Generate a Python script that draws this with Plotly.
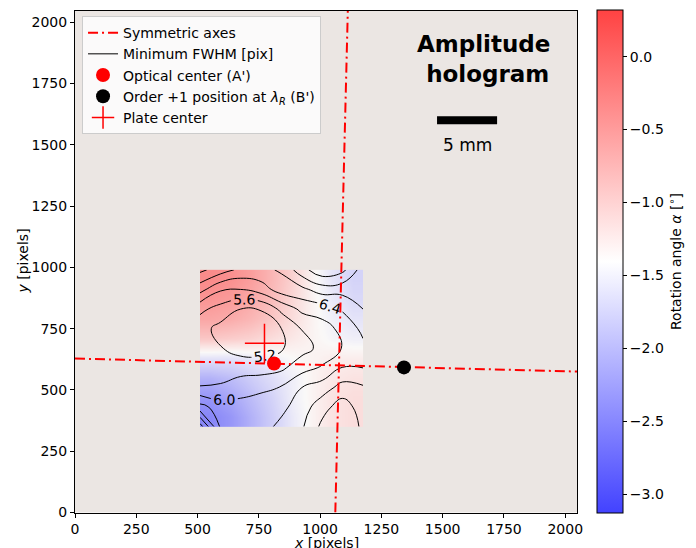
import plotly.graph_objects as go

# ---------------- data ----------------
# Minimum FWHM [pix] grid (rows: bottom -> top)
fwhm_x = [510, 593, 676, 759, 842, 926, 1009, 1092, 1175]
fwhm_y = [350, 430, 510, 590, 670, 750, 830, 910, 990]
fwhm_z = [
    [7.80, 6.35, 6.20, 6.25, 6.50, 6.75, 7.30, 7.60, 7.10],
    [6.55, 6.20, 6.10, 6.20, 6.30, 6.60, 7.05, 7.40, 7.00],
    [5.62, 5.65, 5.88, 5.92, 6.02, 6.40, 6.60, 6.95, 6.85],
    [5.38, 5.40, 5.38, 5.42, 5.52, 5.85, 6.05, 6.42, 6.40],
    [5.30, 5.22, 5.08, 5.05, 5.15, 5.45, 5.72, 6.02, 6.30],
    [5.35, 5.08, 5.02, 5.00, 5.20, 5.62, 5.82, 6.12, 6.50],
    [5.70, 5.45, 5.20, 5.22, 5.70, 6.10, 6.20, 6.45, 6.80],
    [6.55, 6.05, 6.00, 6.20, 6.60, 6.70, 7.00, 6.95, 7.00],
    [7.30, 7.00, 6.70, 6.70, 6.85, 7.45, 7.90, 7.70, 7.00],
]

# Rotation angle alpha [deg] map (cell edges, rows bottom -> top)
angle_x_edges = [510, 593, 676, 759, 843, 926, 1009, 1092, 1175]
angle_y_edges = [350, 430, 510, 590, 670, 750, 830, 910, 990]
angle_z = [
    [-2.45, -2.30, -2.05, -1.80, -1.55, -1.35, -1.20, -1.15],
    [-2.30, -2.15, -1.95, -1.75, -1.50, -1.35, -1.20, -1.15],
    [-2.05, -1.95, -1.80, -1.65, -1.50, -1.35, -1.25, -1.20],
    [-1.60, -1.60, -1.55, -1.50, -1.40, -1.35, -1.30, -1.30],
    [-0.95, -1.00, -1.05, -1.15, -1.25, -1.35, -1.45, -1.50],
    [-0.65, -0.70, -0.80, -0.95, -1.15, -1.35, -1.50, -1.60],
    [-0.50, -0.55, -0.68, -0.85, -1.10, -1.35, -1.55, -1.70],
    [-0.40, -0.45, -0.58, -0.80, -1.05, -1.35, -1.60, -1.75],
]
angle_min = -3.13
angle_max = 0.32

# Symmetric axes (vertical and horizontal)
sym_vert_x = [1062, 1113]
sym_vert_y = [0, 2048]
sym_horiz_x = [0, 2048]
sym_horiz_y = [628, 575]

# Points
optical_center_x = [812]
optical_center_y = [608]
order1_x = [1342]
order1_y = [592]
plate_center_x = [773]
plate_center_y = [690]

# Scale bar (5 mm)
scalebar_x = [1477, 1722]
scalebar_y = [1600, 1600]
scalebar_label_pos = (1600, 1500)
title_pos = (1665, 1850)

tick_vals = [0, 250, 500, 750, 1000, 1250, 1500, 1750, 2000]

FONT = "DejaVu Sans"
FS = 14

# ---------------- figure ----------------
fig = go.Figure()

fig.add_trace(go.Heatmap(
    x=angle_x_edges, y=angle_y_edges, z=angle_z,
    zmin=angle_min, zmax=angle_max, zsmooth="best",
    colorscale=[[0, "rgba(0,0,255,0.74)"], [0.5, "rgba(255,255,255,0.74)"],
                [1, "rgba(255,0,0,0.74)"]],
    showscale=True,
    colorbar=dict(
        x=1.04, xanchor="left", y=0.5, yanchor="middle", len=1.0,
        lenmode="fraction", thickness=26, xpad=0, ypad=0,
        outlinecolor="black", outlinewidth=1,
        tick0=0, dtick=0.5, tickformat=".1f", ticks="outside", ticklen=4,
        tickcolor="black", tickfont=dict(family=FONT, size=FS, color="black"),
        title=dict(text="Rotation angle <i>α</i> [<sup>∘</sup>]", side="right",
                   font=dict(family=FONT, size=FS, color="black")),
    ),
    hoverinfo="skip", showlegend=False,
))

fig.add_trace(go.Contour(
    x=fwhm_x, y=fwhm_y, z=fwhm_z,
    contours=dict(start=5.2, end=7.6, size=0.4, coloring="lines",
                  showlabels=True, labelformat=".1f",
                  labelfont=dict(family=FONT, size=FS, color="black")),
    line=dict(width=1, smoothing=1.3),
    colorscale=[[0, "black"], [1, "black"]],
    showscale=False, showlegend=False, hoverinfo="skip",
))

fig.add_trace(go.Scatter(
    x=sym_vert_x + [None] + sym_horiz_x,
    y=sym_vert_y + [None] + sym_horiz_y,
    mode="lines", name="Symmetric axes",
    line=dict(color="red", width=2, dash="10px,4px,2px,4px"),
))

fig.add_trace(go.Scatter(
    x=[None], y=[None], mode="lines", name="Minimum FWHM [pix]",
    line=dict(color="black", width=1),
))

fig.add_trace(go.Scatter(
    x=optical_center_x, y=optical_center_y, mode="markers",
    name="Optical center (A')",
    marker=dict(color="red", size=14, symbol="circle"),
))

fig.add_trace(go.Scatter(
    x=order1_x, y=order1_y, mode="markers",
    name="Order +1 position at <i>λ</i><sub><i>R</i></sub> (B')",
    marker=dict(color="black", size=14, symbol="circle"),
))

fig.add_trace(go.Scatter(
    x=plate_center_x, y=plate_center_y, mode="markers",
    name="Plate center",
    marker=dict(color="red", size=28, symbol="cross-thin",
                line=dict(color="red", width=1.5)),
))

fig.add_trace(go.Scatter(
    x=scalebar_x, y=scalebar_y, mode="lines",
    line=dict(color="black", width=8), showlegend=False, hoverinfo="skip",
))

fig.add_annotation(
    x=scalebar_label_pos[0], y=scalebar_label_pos[1], xref="x", yref="y",
    text="5 mm", showarrow=False,
    font=dict(family=FONT, size=17, color="black"),
)
fig.add_annotation(
    x=title_pos[0], y=title_pos[1], xref="x", yref="y",
    text="<b>Amplitude<br> hologram</b>", showarrow=False, align="center",
    font=dict(family=FONT, size=23, color="black"),
)
# axis titles
fig.add_annotation(
    x=0.5, y=0, xref="paper", yref="paper", yanchor="middle", yshift=-30,
    text="<i>x</i> [pixels]", showarrow=False,
    font=dict(family=FONT, size=FS, color="black"),
)
fig.add_annotation(
    x=0, y=0.5, xref="paper", yref="paper", xanchor="center", xshift=-53,
    text="<i>y</i> [pixels]", textangle=-90, showarrow=False,
    font=dict(family=FONT, size=FS, color="black"),
)

axis_common = dict(
    range=[0, 2048], showgrid=False, zeroline=False, showline=True,
    mirror=True, linecolor="black", linewidth=1, ticks="outside", ticklen=4,
    tickcolor="black", tickvals=tick_vals, automargin=False,
    tickfont=dict(family=FONT, size=FS, color="black"),
)

fig.update_xaxes(constrain="domain", **axis_common)
fig.update_yaxes(scaleanchor="x", scaleratio=1, constrain="domain", **axis_common)

# page body has an 8 px default margin: figure is 688x540 placed at (8, 8)
fig.update_layout(
    width=688, height=540,
    margin=dict(l=67, r=119, t=2, b=35),
    paper_bgcolor="white", plot_bgcolor="#ebe6e3",
    font=dict(family=FONT, size=FS, color="black"),
    legend=dict(x=0.014, y=0.988, xanchor="left", yanchor="top",
                bgcolor="rgba(255,255,255,0.8)", bordercolor="#cccccc",
                borderwidth=1, font=dict(family=FONT, size=FS, color="black"),
                tracegroupgap=0),
)

fig.write_html("out.html")
